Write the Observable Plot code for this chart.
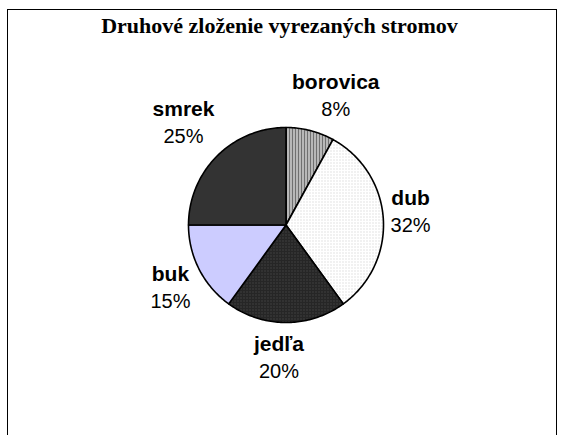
<!DOCTYPE html>
<html><head><meta charset="utf-8">
<script src="https://cdn.jsdelivr.net/npm/d3@7"></script>
<script src="https://cdn.jsdelivr.net/npm/@observablehq/plot@0.6"></script>
<style>
html,body{margin:0;padding:0;background:#fff;overflow:hidden;}
#wrap{position:relative;width:562px;height:435px;}
#frame{position:absolute;left:7px;top:9px;width:550px;height:470px;border:1px solid #000;box-sizing:border-box;}
#title{position:absolute;left:0;width:559px;top:15px;text-align:center;font:bold 22px "Liberation Serif";line-height:1;color:#000;}
#chart{position:absolute;left:0;top:0;}
</style></head><body>
<div id="wrap"><div id="frame"></div><div id="title">Druhové zloženie vyrezaných stromov</div><div id="chart"></div></div>
<script>
// Data
const categories = ["borovica", "dub", "jedľa", "buk", "smrek"];
const percents = [8, 32, 20, 15, 25];
const percentLabels = ["8%", "32%", "20%", "15%", "25%"];
const fills = ["url(#p-borovica)", "url(#p-dub)", "url(#p-jedla)", "#ccccff", "#333333"];

// Layout (pixels)
const W = 562, H = 435, CX = 285.5, CY = 224.5, R = 97.5, GAP = 10;
// small label nudges (pixels) to mimic the original label placement
const nudge = {"borovica": [15, 7], "dub": [-4, -4], "jedľa": [-7, 4], "buk": [5, 3], "smrek": [0, 1]};

const pie = d3.pie().sort(null).value(d => d)(percents);

// slice polygons in unit space (radius 1, clockwise from top)
const slicePts = [];
pie.forEach((p, i) => {
  const n = Math.max(2, Math.ceil((p.endAngle - p.startAngle) / (Math.PI / 180)));
  slicePts.push({name: categories[i], fill: fills[i], x: 0, y: 0});
  for (let k = 0; k <= n; k++) {
    const a = p.startAngle + (p.endAngle - p.startAngle) * k / n;
    slicePts.push({name: categories[i], fill: fills[i], x: Math.sin(a), y: Math.cos(a)});
  }
  slicePts.push({name: categories[i], fill: fills[i], x: 0, y: 0});
});

// label positions
const ctx = document.createElement("canvas").getContext("2d");
function tw(t, bold) { ctx.font = (bold ? "bold 21px" : "20px") + " 'Liberation Sans'"; return ctx.measureText(t).width; }
const labels = pie.map((p, i) => {
  const a = (p.startAngle + p.endAngle) / 2;
  const halfW = Math.max(tw(categories[i], true), tw(percentLabels[i], false)) / 2;
  const ext = Math.abs(Math.sin(a)) * halfW + Math.abs(Math.cos(a)) * 22;
  const d = (R + GAP + ext) / R;
  const [nx, ny] = nudge[categories[i]];
  return {name: categories[i], pct: percentLabels[i], x: Math.sin(a) * d + nx / R, y: Math.cos(a) * d - ny / R};
});

const chart = Plot.plot({
  width: W, height: H, margin: 0,
  x: {domain: [-CX / R, (W - CX) / R], range: [0, W], axis: null},
  y: {domain: [-(H - CY) / R, CY / R], range: [H, 0], axis: null},
  color: {type: "identity"},
  style: {background: "transparent", overflow: "visible"},
  marks: [
    Plot.line(slicePts, {x: "x", y: "y", z: "name", fill: "fill", stroke: "#000", strokeWidth: 1.6, strokeLinejoin: "round", curve: "linear"}),
    Plot.text(labels, {x: "x", y: "y", text: "name", dy: -8, lineAnchor: "bottom", textAnchor: "middle", fontWeight: "bold", fontSize: 21, fontFamily: "Liberation Sans", fill: "#000"}),
    Plot.text(labels, {x: "x", y: "y", text: "pct", dy: 19, lineAnchor: "bottom", textAnchor: "middle", fontSize: 20, fontFamily: "Liberation Sans", fill: "#000"})
  ]
});

d3.select(chart).insert("defs", ":first-child").html(`
  <pattern id="p-borovica" width="3" height="3" patternUnits="userSpaceOnUse">
    <rect width="3" height="3" fill="#ffffff"/>
    <rect width="2" height="3" fill="#707070"/>
  </pattern>
  <pattern id="p-dub" width="3" height="3" patternUnits="userSpaceOnUse">
    <rect width="3" height="3" fill="#ffffff"/>
    <rect width="1" height="1" fill="#c8c8c8"/>
  </pattern>
  <pattern id="p-jedla" width="3" height="3" patternUnits="userSpaceOnUse">
    <rect width="3" height="3" fill="#262626"/>
    <rect width="1" height="1" fill="#555555"/>
  </pattern>
`);
document.getElementById("chart").appendChild(chart);
</script>
</body></html>
